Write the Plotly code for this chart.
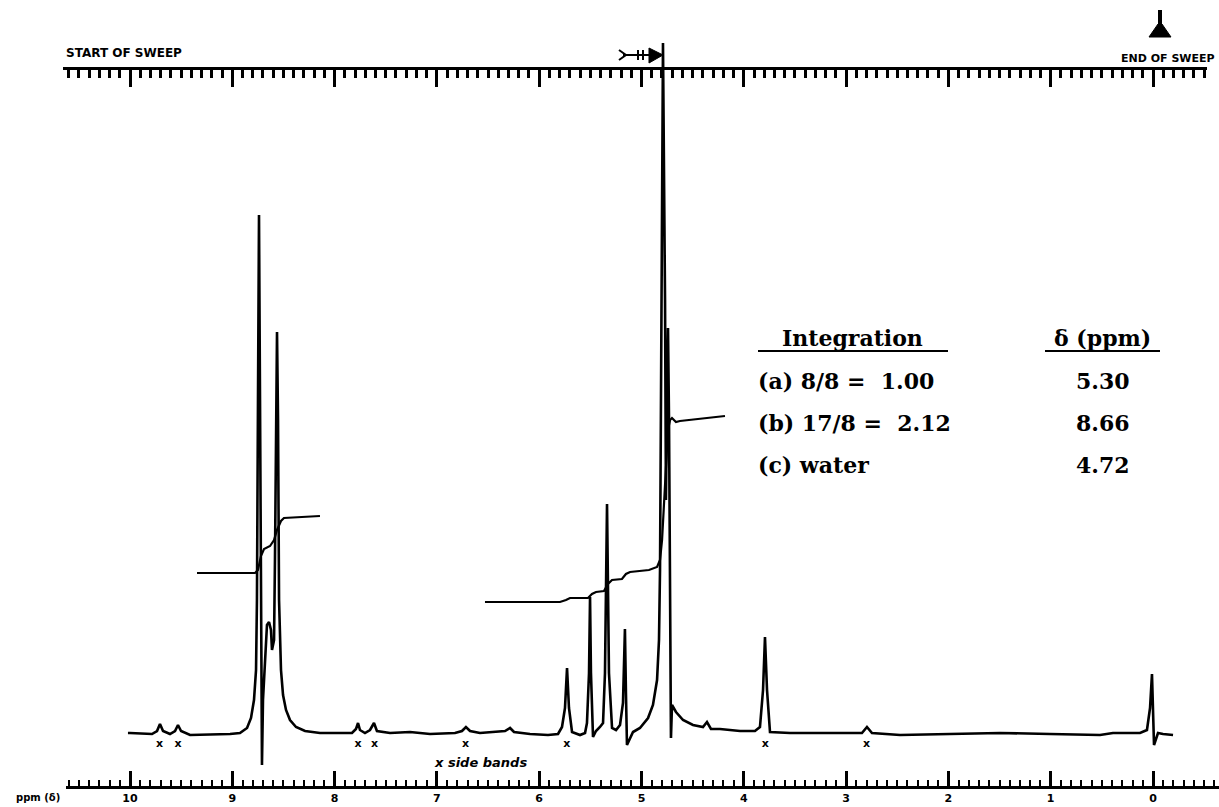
import plotly.graph_objects as go

W, H = 1219, 807

# ---- spectrum trace: chemical shift (ppm) vs pen height above baseline ----
spec_ppm = [10.02, 10.00, 9.785, 9.736, 9.707, 9.677, 9.609, 9.560, 9.531, 9.501,
            9.413, 9.022, 8.925, 8.856, 8.817, 8.788, 8.768, 8.759, 8.749, 8.739,
            8.729, 8.720, 8.710, 8.700, 8.680, 8.661, 8.641, 8.622, 8.612, 8.592,
            8.583, 8.573, 8.563, 8.553, 8.543, 8.524, 8.504, 8.475, 8.436, 8.377,
            8.289, 8.143, 7.947, 7.830, 7.791, 7.771, 7.752, 7.703, 7.654, 7.615,
            7.586, 7.458, 7.263, 7.067, 6.823, 6.755, 6.716, 6.676, 6.579, 6.334,
            6.285, 6.246, 6.090, 5.914, 5.816, 5.777, 5.748, 5.728, 5.709, 5.679,
            5.601, 5.552, 5.533, 5.513, 5.503, 5.494, 5.474, 5.445, 5.406, 5.376,
            5.357, 5.337, 5.318, 5.288, 5.249, 5.210, 5.181, 5.162, 5.152, 5.142,
            5.083, 5.015, 4.936, 4.888, 4.848, 4.829, 4.819, 4.809, 4.790, 4.770,
            4.761, 4.751, 4.741, 4.731, 4.721, 4.712, 4.702, 4.663, 4.594, 4.497,
            4.399, 4.360, 4.321, 4.233, 4.037, 3.891, 3.842, 3.812, 3.793, 3.773,
            3.744, 3.548, 3.157, 2.845, 2.796, 2.747, 2.473, 1.887, 1.496, 1.007,
            0.518, 0.391, 0.127, 0.059, 0.029, 0.010, 0.000, -0.010, -0.049, -0.098,
            -0.196]
spec_int = [0, 0, -1, 2, 9, 2, -1, 2, 8, 2,
            -2, -1, 0, 5, 15, 33, 63, 133, 333, 518,
            333, 83, -32, 33, 78, 108, 111, 103, 83, 93,
            173, 313, 401, 313, 133, 63, 38, 23, 13, 6,
            2, 0, 0, 0, 4, 10, 3, 0, 3, 10,
            2, 0, 1, -1, 0, 2, 6, 2, 0, 2,
            5, 1, -1, -2, -1, 6, 25, 65, 25, 1,
            -2, 0, 10, 60, 136, 60, -4, 2, 6, 10,
            60, 229, 60, 5, 3, 8, 30, 104, 40, -12,
            1, 5, 15, 28, 53, 93, 163, 333, 690, 433,
            233, 333, 405, 313, 133, -5, 28, 21, 13, 8,
            6, 11, 4, 4, 2, 2, 6, 43, 96, 43,
            1, 0, 0, 0, 6, 0, -2, -1, 0, -1,
            -2, 0, 0, 3, 25, 59, 20, -12, 0, -1,
            -2]

# ---- integral traces ----
int1_ppm = [9.345, 8.778, 8.749, 8.720, 8.690, 8.631, 8.592, 8.563, 8.524, 8.495, 8.143]
int1_val = [160, 160, 163, 177, 184, 187, 193, 203, 212, 215, 217]

int2_ppm = [6.530, 5.797, 5.738, 5.699, 5.523, 5.484, 5.445, 5.367, 5.328, 5.288,
            5.191, 5.152, 5.112, 4.927, 4.848, 4.819, 4.799, 4.780, 4.761, 4.741,
            4.721, 4.702, 4.663, 4.624, 4.184]
int2_val = [131, 131, 133, 135, 135, 139, 141, 142, 149, 153,
            154, 159, 161, 163, 166, 173, 193, 233, 273, 303,
            313, 315, 311, 312, 317]

# spinning side bands marked under the trace
sideband_ppm = [9.71, 9.53, 7.77, 7.61, 6.72, 5.73, 3.79, 2.80]
sideband_mark = [-11] * len(sideband_ppm)

# ppm scale labels
tick_ppm = [10, 9, 8, 7, 6, 5, 4, 3, 2, 1, 0]
tick_text = [str(t) for t in tick_ppm]

# integration table
int_labels = ["(a) 8/8 = \u00a01.00", "(b) 17/8 = \u00a02.12", "(c) water"]
shift_labels = ["5.30", "8.66", "4.72"]

# ---- pixel calibration of the chart paper ----
PX_PER_PPM = 102.3
X_ZERO = 1153          # pixel column of 0 ppm
BASE_Y = 733           # pixel row of the baseline


def ppm_at(px):
    return (X_ZERO - px) / PX_PER_PPM


def fx(px):
    return px / W


def fy(py):
    return 1 - py / H


fig = go.Figure()

fig.add_trace(go.Scatter(x=spec_ppm, y=spec_int, mode="lines",
                         line=dict(color="black", width=2.6),
                         hoverinfo="skip", showlegend=False))
fig.add_trace(go.Scatter(x=int1_ppm, y=int1_val, mode="lines",
                         line=dict(color="black", width=2.2),
                         hoverinfo="skip", showlegend=False))
fig.add_trace(go.Scatter(x=int2_ppm, y=int2_val, mode="lines",
                         line=dict(color="black", width=2.2),
                         hoverinfo="skip", showlegend=False))
fig.add_trace(go.Scatter(x=sideband_ppm, y=sideband_mark, mode="text",
                         text=["x"] * len(sideband_ppm),
                         textfont=dict(family="DejaVu Sans", size=11, color="black",
                                       weight="bold"),
                         hoverinfo="skip", showlegend=False))
# anchor trace so the sweep scale is drawn
fig.add_trace(go.Scatter(x=[None], y=[None], xaxis="x2", yaxis="y",
                         showlegend=False, hoverinfo="skip"))

x_range = [ppm_at(0), ppm_at(W)]

fig.update_layout(
    width=W, height=H,
    margin=dict(l=0, r=0, t=0, b=0),
    paper_bgcolor="white", plot_bgcolor="white",
    showlegend=False,
    # bottom ppm scale
    xaxis=dict(domain=[0, 1], range=x_range,
               anchor="free", position=fy(787), side="bottom",
               showline=True, linecolor="black", linewidth=2.5,
               ticks="inside", ticklen=15, tickwidth=3, tickcolor="black",
               tickmode="array", tickvals=tick_ppm, ticktext=tick_text,
               showgrid=False, zeroline=False,
               minor=dict(ticks="inside", ticklen=6, tickwidth=2,
                          tickmode="linear", tick0=0, dtick=0.1,
                          tickcolor="black", showgrid=False),
               tickfont=dict(family="DejaVu Sans", size=11, color="black", weight="bold")),
    yaxis=dict(domain=[0, 1], range=[BASE_Y - H, BASE_Y], visible=False),
    # top sweep scale
    xaxis2=dict(range=x_range, overlaying="x",
                anchor="free", position=fy(68), side="top",
                showline=True, linecolor="black", linewidth=2.5,
                ticks="inside", ticklen=17, tickwidth=3, tickcolor="black",
                tick0=0, dtick=1, showgrid=False, zeroline=False, showticklabels=False,
                minor=dict(ticks="inside", ticklen=8, tickwidth=3, dtick=0.1,
                           tickcolor="black", showgrid=False)),
)

serif = dict(family="DejaVu Serif", size=22, color="black", weight="bold")
ann = []
ann.append(dict(x=fx(852), y=fy(338), text="Integration", font=serif,
                xanchor="center", yanchor="middle"))
ann.append(dict(x=fx(1102), y=fy(338), text="\u03b4 (ppm)", font=serif,
                xanchor="center", yanchor="middle"))
for i, (lab, val) in enumerate(zip(int_labels, shift_labels)):
    yy = 381 + 42 * i
    ann.append(dict(x=fx(756), y=fy(yy), text=lab, font=serif,
                    xanchor="left", yanchor="middle"))
    ann.append(dict(x=fx(1103), y=fy(yy), text=val, font=serif,
                    xanchor="center", yanchor="middle"))

small_caps = dict(family="DejaVu Sans", size=12, color="black", weight="bold")
ann.append(dict(x=fx(64), y=fy(53), text="START OF SWEEP", font=small_caps,
                xanchor="left", yanchor="middle"))
ann.append(dict(x=fx(1217), y=fy(58), text="END OF SWEEP",
                font=dict(family="DejaVu Sans", size=11, color="black", weight="bold"),
                xanchor="right", yanchor="middle"))
ann.append(dict(x=fx(14), y=fy(797), text="ppm (\u03b4)",
                font=dict(family="DejaVu Sans", size=10, color="black", weight="bold"),
                xanchor="left", yanchor="middle"))
ann.append(dict(x=fx(480), y=fy(762), text="<i>x side bands</i>",
                font=dict(family="DejaVu Sans", size=13, color="black", weight="bold"),
                xanchor="center", yanchor="middle"))

for a in ann:
    a.update(xref="paper", yref="paper", showarrow=False)
fig.update_layout(annotations=ann)


def pt(x, y):
    return f"{fx(x):.5f},{fy(y):.5f}"


shapes = []
line_style = dict(color="black", width=2)
white = dict(fillcolor="white", line=dict(width=0), layer="above",
             xref="paper", yref="paper", type="rect")
# trim the rulers to the printed length of the chart paper
shapes.append(dict(x0=0, x1=fx(66), y0=fy(792), y1=fy(765), **white))
shapes.append(dict(x0=0, x1=fx(63), y0=fy(95), y1=fy(62), **white))
shapes.append(dict(x0=fx(1207), x1=1, y0=fy(95), y1=fy(62), **white))
# table underlines
shapes.append(dict(type="line", xref="paper", yref="paper",
                   x0=fx(758), x1=fx(948), y0=fy(351), y1=fy(351), line=line_style))
shapes.append(dict(type="line", xref="paper", yref="paper",
                   x0=fx(1045), x1=fx(1160), y0=fy(351), y1=fy(351), line=line_style))
# end-of-sweep pointer
shapes.append(dict(type="rect", xref="paper", yref="paper",
                   x0=fx(1158), x1=fx(1162), y0=fy(27), y1=fy(10),
                   fillcolor="black", line=dict(width=0)))
shapes.append(dict(type="path", xref="paper", yref="paper",
                   path=f"M {pt(1158, 24)} L {pt(1162, 24)} L {pt(1171, 37)} L {pt(1149, 37)} Z",
                   fillcolor="black", line=dict(color="black", width=1)))
# reference marker arrow on the sweep scale
shapes.append(dict(type="line", xref="paper", yref="paper",
                   x0=fx(623), x1=fx(652), y0=fy(55), y1=fy(55), line=line_style))
shapes.append(dict(type="path", xref="paper", yref="paper",
                   path=f"M {pt(619, 50)} L {pt(626, 55)} L {pt(619, 60)}",
                   line=line_style))
for bx in (638, 643):
    shapes.append(dict(type="line", xref="paper", yref="paper",
                       x0=fx(bx), x1=fx(bx), y0=fy(50), y1=fy(60), line=line_style))
shapes.append(dict(type="path", xref="paper", yref="paper",
                   path=f"M {pt(649, 48)} L {pt(663, 55)} L {pt(649, 63)} Z",
                   fillcolor="black", line=dict(color="black", width=1)))
fig.update_layout(shapes=shapes)

fig.write_html("out.html")
